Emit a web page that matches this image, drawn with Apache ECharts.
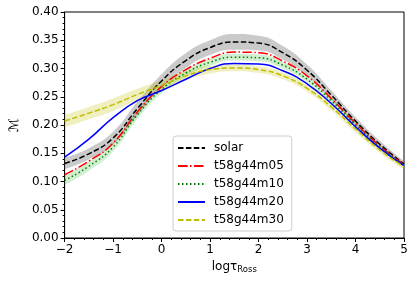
<!DOCTYPE html>
<html><head><meta charset="utf-8">
<script src="https://cdn.jsdelivr.net/npm/echarts@6/dist/echarts.min.js"></script>
<style>html,body{margin:0;padding:0;background:#fff}#c{width:416px;height:281px}</style>
</head><body><div id="c"></div>
<script>
const xs = [-2,-1.5,-1,-0.5,0,0.5,1,1.5,2,2.5,3,3.5,4,4.5,5];
const solar    = [0.132,0.149,0.177,0.229,0.278,0.314,0.337,0.347,0.345,0.328,0.297,0.253,0.207,0.166,0.131];
const m05      = [0.112,0.136,0.168,0.223,0.268,0.298,0.318,0.329,0.328,0.313,0.287,0.247,0.203,0.163,0.130];
const m10      = [0.102,0.127,0.161,0.218,0.263,0.292,0.311,0.320,0.319,0.306,0.281,0.243,0.200,0.161,0.129];
const m20      = [0.143,0.175,0.213,0.243,0.261,0.281,0.300,0.309,0.308,0.296,0.273,0.238,0.197,0.159,0.128];
const m30      = [0.207,0.221,0.236,0.254,0.270,0.287,0.298,0.301,0.298,0.287,0.265,0.232,0.193,0.156,0.126];
const solarErr = [0.010,0.010,0.011,0.012,0.012,0.013,0.013,0.014,0.013,0.012,0.010,0.008,0.007,0.006,0.005];
const m10Err   = [0.008,0.008,0.008,0.008,0.007,0.006,0.006,0.006,0.006,0.006,0.005,0.005,0.005,0.004,0.004];
const m30Err   = [0.011,0.011,0.011,0.010,0.009,0.008,0.007,0.006,0.006,0.006,0.006,0.006,0.006,0.005,0.005];
const names = ['solar','t58g44m05','t58g44m10','t58g44m20','t58g44m30'];
const yTicks = ['0.00','0.05','0.10','0.15','0.20','0.25','0.30','0.35','0.40'];

const FONT = 'DejaVu Sans';
const SMOOTH = 0.5;
const pairs = arr => xs.map((x,i)=>[x, arr[i]]);
function band(id, vals, err, color){
  const lo = vals.map((v,i)=>+(v-err[i]).toFixed(4));
  const d = err.map(e=>+(2*e).toFixed(4));
  return [
    {type:'line', name:id+'_lo', xAxisIndex:1, stack:id, data:lo, smooth:SMOOTH, symbol:'none', silent:true,
     lineStyle:{opacity:0}, z:1},
    {type:'line', name:id+'_hi', xAxisIndex:1, stack:id, data:d, smooth:SMOOTH, symbol:'none', silent:true,
     lineStyle:{opacity:0}, areaStyle:{color:color, opacity:1}, z:1}
  ];
}
function line(name, vals, color, dash){
  return {type:'line', name:name, data:pairs(vals), smooth:SMOOTH, symbol:'none', z:3,
    itemStyle:{color:color},
    lineStyle:{color:color, width:1.5, type:dash}};
}
const series = [
  ...band('bs', solar, solarErr, 'rgba(128,128,128,0.42)'),
  ...band('b10', m10, m10Err, 'rgba(0,160,0,0.18)'),
  ...band('b30', m30, m30Err, 'rgba(191,191,0,0.25)'),
  line(names[0], solar, '#000000', [5.5,2.4]),
  line(names[1], m05, '#ff0000', [9.6,2.4,1.5,2.4]),
  line(names[2], m10, '#008000', [1.5,2.5]),
  line(names[3], m20, '#0000ff', 'solid'),
  line(names[4], m30, '#bfbf00', [5.5,2.4])
];
const chart = echarts.init(document.getElementById('c'), null, {renderer:'canvas'});
chart.setOption({
  animation:false,
  backgroundColor:'#fff',
  grid:{left:58, right:12, top:12, bottom:43, show:true, borderColor:'#000', borderWidth:1, backgroundColor:'transparent'},
  xAxis:[{type:'value', min:-2, max:5, interval:1,
    axisLine:{onZero:false, lineStyle:{color:'#000', width:1}},
    axisTick:{show:true, inside:false, length:4, lineStyle:{color:'#000'}},
    minorTick:{show:true, splitNumber:5, length:2, lineStyle:{color:'#000'}},
    splitLine:{show:false},
    axisLabel:{color:'#000', fontFamily:FONT, fontSize:12, margin:6,
      formatter:v=>String(v).replace('-','\u2212')},
    name:'{a|log\u03c4}{b|Ross}', nameLocation:'middle', nameGap:15,
    nameTextStyle:{rich:{a:{fontFamily:FONT, fontSize:12, color:'#000'}, b:{fontFamily:FONT, fontSize:8.5, color:'#000', verticalAlign:'bottom', padding:[6,0,0,0]}}}
  },{type:'category', data:xs, boundaryGap:false, show:false, position:'bottom'}],
  yAxis:{type:'value', min:0, max:0.4, interval:0.05,
    axisLine:{show:true, onZero:false, lineStyle:{color:'#000', width:1}},
    axisTick:{show:true, inside:false, length:4, lineStyle:{color:'#000'}},
    minorTick:{show:true, splitNumber:5, length:2, lineStyle:{color:'#000'}},
    splitLine:{show:false},
    axisLabel:{color:'#000', fontFamily:FONT, fontSize:12, margin:6,
      formatter:v=>yTicks[Math.round(v/0.05)]},
    name:'\u2133', nameLocation:'middle', nameGap:40, nameRotate:90,
    nameTextStyle:{fontFamily:FONT, fontSize:13, fontStyle:'italic', color:'#000'}
  },
  legend:{data:names, orient:'vertical', left:173, top:136,
    itemWidth:27, itemHeight:10, itemGap:6, padding:[6,8,5,4],
    itemStyle:{opacity:0},
    backgroundColor:'#fff', borderColor:'#cccccc', borderWidth:1, borderRadius:3,
    textStyle:{fontFamily:FONT, fontSize:12, color:'#000', padding:[0,0,0,4]}},
  series:series
});
</script></body></html>
